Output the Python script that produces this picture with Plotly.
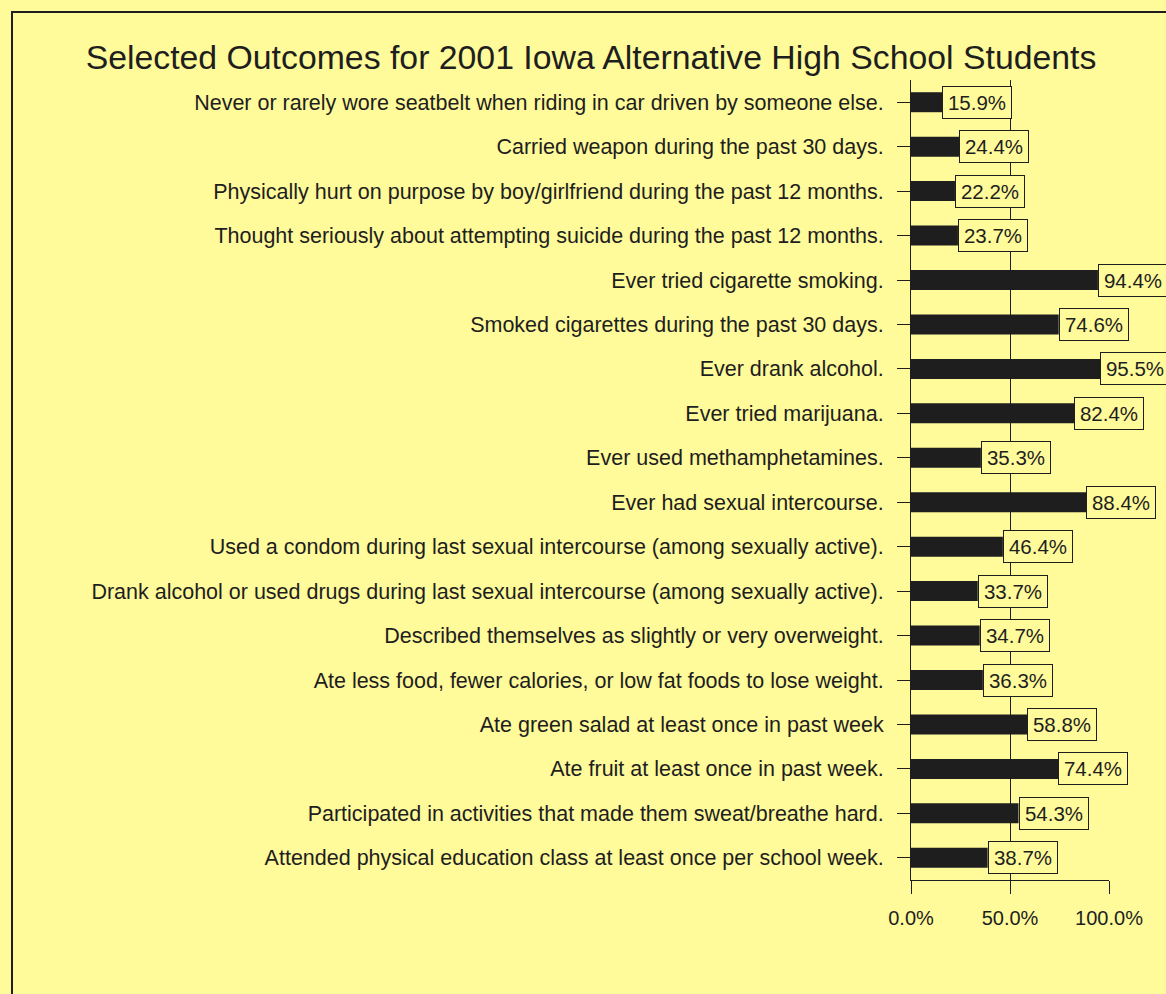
import plotly.graph_objects as go

categories = [
    "Never or rarely wore seatbelt when riding in car driven by someone else.",
    "Carried weapon during the past 30 days.",
    "Physically hurt on purpose by boy/girlfriend during the past 12 months.",
    "Thought seriously about attempting suicide during the past 12 months.",
    "Ever tried cigarette smoking.",
    "Smoked cigarettes during the past 30 days.",
    "Ever drank alcohol.",
    "Ever tried marijuana.",
    "Ever used methamphetamines.",
    "Ever had sexual intercourse.",
    "Used a condom during last sexual intercourse (among sexually active).",
    "Drank alcohol or used drugs during last sexual intercourse (among sexually active).",
    "Described themselves as slightly or very overweight.",
    "Ate less food, fewer calories, or low fat foods to lose weight.",
    "Ate green salad at least once in past week",
    "Ate fruit at least once in past week.",
    "Participated in activities that made them sweat/breathe hard.",
    "Attended physical education class at least once per school week.",
]
values = [15.9, 24.4, 22.2, 23.7, 94.4, 74.6, 95.5, 82.4, 35.3, 88.4,
          46.4, 33.7, 34.7, 36.3, 58.8, 74.4, 54.3, 38.7]
tick_vals = [0, 50, 100]
tick_text = ["0.0%", "50.0%", "100.0%"]
title_text = "Selected Outcomes for 2001 Iowa Alternative High School Students"

BG = "#FFFA9A"
INK = "#1e1e1e"
FONT = "Liberation Sans, Arial, sans-serif"

W, H = 1166, 994
ML, MR, MT, MB = 911, 57, 80, 114
PW = W - ML - MR
PH = H - MT - MB

fig = go.Figure()
fig.add_trace(go.Bar(
    x=values, y=categories, orientation="h",
    marker=dict(color=INK, line=dict(width=0)),
    hoverinfo="skip",
))

for c, v in zip(categories, values):
    fig.add_annotation(
        x=v, y=c, xref="x", yref="y",
        text=f"{v:.1f}%", showarrow=False,
        xanchor="left", yanchor="middle",
        font=dict(family=FONT, size=20.5, color=INK),
        bgcolor=BG, bordercolor=INK, borderwidth=1, borderpad=1,
        width=66, height=29,
    )

def px_to_paper_x(px):
    return (px - ML) / PW

def px_to_paper_y(py):
    return 1 - (py - MT) / PH

fig.add_shape(
    type="rect", xref="paper", yref="paper",
    x0=px_to_paper_x(12), x1=px_to_paper_x(1180),
    y0=px_to_paper_y(1010), y1=px_to_paper_y(12),
    line=dict(color=INK, width=2), fillcolor="rgba(0,0,0,0)", layer="below",
)

fig.update_layout(
    width=W, height=H,
    margin=dict(l=ML, r=MR, t=MT, b=MB, pad=0),
    paper_bgcolor=BG, plot_bgcolor=BG,
    showlegend=False,
    bargap=0.55,
    font=dict(family=FONT, color=INK),
    title=dict(
        text=title_text, x=591 / W, xanchor="center",
        y=1 - 57 / H, yanchor="middle", yref="container",
        font=dict(family=FONT, size=33.8, color=INK),
    ),
    xaxis=dict(
        range=[0, 100], tickvals=tick_vals, ticktext=tick_text,
        showgrid=True, gridcolor=INK, gridwidth=1,
        showline=True, linecolor=INK, linewidth=1,
        ticks="outside", ticklen=13, tickcolor=INK, tickwidth=1,
        tickfont=dict(family=FONT, size=20, color=INK),
        ticklabelstandoff=7,
        zeroline=False, fixedrange=True,
    ),
    yaxis=dict(
        categoryorder="array", categoryarray=categories,
        autorange="reversed",
        showgrid=False, showline=True, linecolor=INK, linewidth=1,
        ticks="outside", ticklen=13, tickcolor=INK, tickwidth=1,
        tickfont=dict(family=FONT, size=21.5, color=INK),
        ticklabelstandoff=9,
        zeroline=False, fixedrange=True,
    ),
)

fig.write_html("out.html")
